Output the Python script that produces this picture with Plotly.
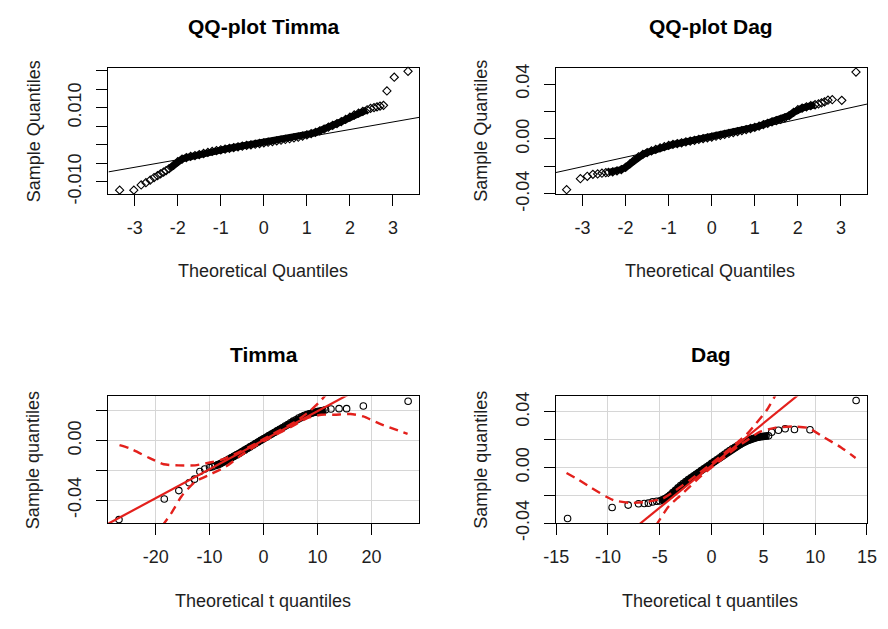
import plotly.graph_objects as go

W, H = 888, 629
FONT = "Liberation Sans, Arial, sans-serif"
INK = "#1e1e1e"
RED = "#e3201c"

# ---------------- QQ-plot Timma (normal quantiles) ----------------
timma_norm_x = [-3.35, -3.02, -2.85, -2.74, -2.64, -2.55, -2.47, -2.40, -2.33, -2.27,
                -2.2, -2.1, -2.0, -1.9, -1.8, -1.7, -1.6, -1.5, -1.4, -1.3, -1.2, -1.1,
                -1.0, -0.9, -0.8, -0.7, -0.6, -0.5, -0.4, -0.3, -0.2, -0.1, 0.0, 0.1,
                0.2, 0.3, 0.4, 0.5, 0.6, 0.7, 0.8, 0.9, 1.0, 1.1, 1.2, 1.3, 1.4, 1.5,
                1.6, 1.7, 1.8, 1.9, 2.0, 2.1, 2.2, 2.3, 2.4,
                2.48, 2.56, 2.63, 2.70, 2.78, 2.86, 3.03, 3.35]
timma_norm_y = [-0.0123, -0.0123, -0.0109, -0.0103, -0.0096, -0.0089, -0.0084, -0.0079, -0.0074, -0.0070,
                -0.0065, -0.0056, -0.0046, -0.0039, -0.0035, -0.0032, -0.00295, -0.0027, -0.0024, -0.0021, -0.00185, -0.0016,
                -0.0014, -0.0012, -0.0010, -0.0008, -0.0006, -0.0004, -0.0002, -0.00005, 0.0001, 0.0003, 0.0005, 0.00065,
                0.0008, 0.0010, 0.0012, 0.0014, 0.0016, 0.0018, 0.0020, 0.0023, 0.0026, 0.00295, 0.0033, 0.0037, 0.0042, 0.0047,
                0.0052, 0.0057, 0.0062, 0.0068, 0.0074, 0.0080, 0.0085, 0.0090, 0.0094,
                0.0098, 0.0100, 0.0102, 0.0104, 0.0106, 0.0145, 0.0182, 0.0198]
timma_norm_band = (-2.2, 2.4)
timma_norm_line = (0.0, 0.00204)          # intercept, slope of qqline

# ---------------- QQ-plot Dag (normal quantiles) ----------------
dag_norm_x = [-3.37, -3.05, -2.89, -2.76, -2.65, -2.55, -2.46,
              -2.4, -2.3, -2.2, -2.1, -2.0, -1.9, -1.8, -1.7, -1.6, -1.5, -1.4, -1.3, -1.2,
              -1.1, -1.0, -0.9, -0.8, -0.7, -0.6, -0.5, -0.4, -0.3, -0.2, -0.1, 0.0, 0.1,
              0.2, 0.3, 0.4, 0.5, 0.6, 0.7, 0.8, 0.9, 1.0, 1.1, 1.2, 1.3, 1.4, 1.5, 1.6,
              1.7, 1.8, 1.9, 2.0, 2.1, 2.2, 2.3, 2.4,
              2.48, 2.55, 2.62, 2.70, 2.80, 3.02, 3.35]
dag_norm_y = [-0.0370, -0.0290, -0.0272, -0.0258, -0.0255, -0.0250, -0.0246,
              -0.0244, -0.0240, -0.0233, -0.0223, -0.0207, -0.0182, -0.0154, -0.0130, -0.0113, -0.0099, -0.0087, -0.0076, -0.0066,
              -0.0056, -0.0047, -0.0040, -0.0034, -0.0028, -0.0022, -0.0016, -0.0010, -0.0004, 0.0002, 0.0008, 0.0014, 0.0020,
              0.0026, 0.0033, 0.0040, 0.0046, 0.0053, 0.0060, 0.0068, 0.0076, 0.0085, 0.0094, 0.0104, 0.0114, 0.0124, 0.0134, 0.0143,
              0.0154, 0.0170, 0.0193, 0.0213, 0.0225, 0.0234, 0.0242, 0.0249,
              0.0255, 0.0262, 0.0270, 0.0282, 0.0286, 0.0281, 0.0487]
dag_norm_band = (-2.4, 2.4)
dag_norm_line = (0.0005, 0.0069)

# ---------------- Timma (t quantiles) ----------------
timma_t_x = [-26.8, -18.4, -15.7, -13.8, -12.8, -11.8, -10.9, -10.0, -9.5,
             -9.0, -8.5, -8.0, -7.5, -7.0, -6.5, -6.0, -5.5, -5.0, -4.5, -4.0, -3.5,
             -3.0, -2.5, -2.0, -1.5, -1.0, -0.5, 0.0, 0.5, 1.0, 1.5, 2.0, 2.5, 3.0,
             3.5, 4.0, 4.5, 5.0, 5.5, 6.0, 6.5, 7.0, 7.5, 8.0, 8.5, 9.0, 9.5, 10.0,
             10.5, 11.0, 11.5,
             12.5, 14.0, 15.4, 18.5, 26.8]
timma_t_y = [-0.0531, -0.0392, -0.0336, -0.0283, -0.0259, -0.0207, -0.0191, -0.0181, -0.0175,
             -0.0169, -0.0163, -0.0156, -0.0146, -0.0136, -0.0126, -0.0116, -0.0106, -0.0096, -0.0086, -0.0075, -0.0064,
             -0.0053, -0.0042, -0.0031, -0.0020, -0.0009, 0.0002, 0.0012, 0.0023, 0.0034, 0.0044, 0.0055, 0.0066, 0.0077,
             0.0087, 0.0098, 0.0109, 0.0120, 0.0131, 0.0141, 0.0152, 0.0160, 0.0169, 0.0175, 0.0181, 0.0186, 0.0191, 0.0195,
             0.0199, 0.0203, 0.0207,
             0.0213, 0.0215, 0.0215, 0.0233, 0.0265]
timma_t_band = (-9.0, 11.5)
timma_t_line = (0.0003, 0.00195)
timma_t_upper_x = [-26.7, -24.8, -21.2, -18.5, -15.8, -12.7, -9.7, -7.3, -5.0, -2.0, 0.0, 3.0, 6.0, 8.6, 10.1, 11.5]
timma_t_upper_y = [-0.0030, -0.0052, -0.0116, -0.0159, -0.0166, -0.0166, -0.0145, -0.0123, -0.0085, -0.0030,
                   0.0010, 0.0070, 0.0130, 0.0200, 0.0250, 0.0305]
timma_t_lower_x = [-18.8, -17.0, -15.2, -12.7, -9.7, -7.0, -4.0, -1.0, 2.0, 5.0, 8.0, 10.7, 13.1, 16.1, 18.5, 21.5, 26.7]
timma_t_lower_y = [-0.0575, -0.0482, -0.0374, -0.0277, -0.0224, -0.0175, -0.0095, -0.0025, 0.0035, 0.0090,
                   0.0150, 0.0174, 0.0174, 0.0179, 0.0163, 0.0114, 0.0045]

# ---------------- Dag (t quantiles) ----------------
dag_t_x = [-13.9, -9.6, -8.05, -7.05, -6.5, -6.1, -5.7, -5.3,
           -5.0, -4.75, -4.5, -4.25, -4.0, -3.75, -3.5, -3.25, -3.0, -2.75, -2.5, -2.25,
           -2.0, -1.75, -1.5, -1.25, -1.0, -0.75, -0.5, -0.25, 0.0, 0.25, 0.5, 0.75,
           1.0, 1.25, 1.5, 1.75, 2.0, 2.25, 2.5, 2.75, 3.0, 3.25, 3.5, 3.75, 4.0,
           4.25, 4.5, 4.75, 5.0, 5.25, 5.5,
           5.8, 6.45, 7.1, 8.0, 9.5, 13.95]
dag_t_y = [-0.0366, -0.0287, -0.0270, -0.0260, -0.0258, -0.0256, -0.0247, -0.0242,
           -0.0240, -0.0233, -0.0224, -0.0212, -0.0197, -0.0180, -0.0163, -0.0146, -0.0130, -0.0115, -0.0101, -0.0087,
           -0.0074, -0.0061, -0.0048, -0.0035, -0.0022, -0.0009, 0.0004, 0.0017, 0.0030, 0.0043, 0.0056, 0.0069,
           0.0082, 0.0096, 0.0110, 0.0122, 0.0134, 0.0145, 0.0156, 0.0166, 0.0176, 0.0185, 0.0194, 0.0202, 0.0209,
           0.0214, 0.0218, 0.0221, 0.0224, 0.0226, 0.0228,
           0.0254, 0.0268, 0.0279, 0.0274, 0.0272, 0.0482]
dag_t_band = (-5.0, 5.5)
dag_t_line = (0.0015, 0.00606)
dag_t_upper_x = [-14.0, -12.9, -11.65, -10.1, -9.45, -7.9, -6.3, -4.75, -3.8, -2.0, 0.0, 2.0, 3.4, 4.3, 5.3, 6.2]
dag_t_upper_y = [-0.0039, -0.0085, -0.0143, -0.0212, -0.0235, -0.0254, -0.0247, -0.0224, -0.0180, -0.0085,
                 0.0030, 0.0150, 0.0240, 0.0318, 0.0410, 0.0525]
dag_t_lower_x = [-5.4, -4.6, -4.1, -3.0, -1.0, 1.0, 2.5, 3.4, 4.6, 6.2, 7.8, 9.35, 10.9, 12.5, 13.9]
dag_t_lower_y = [-0.0420, -0.0327, -0.0275, -0.0200, -0.0060, 0.0060, 0.0150, 0.0195, 0.0255, 0.0287,
                 0.0295, 0.0284, 0.0215, 0.0145, 0.0069]

# ---------------- panel layout (pixel boxes) ----------------
panels = [
    dict(title="QQ-plot Timma", xlab="Theoretical Quantiles", ylab="Sample Quantiles",
         box=(98, 417, 66, 197), xr=[-3.61, 3.61], yr=[-0.01337, 0.02078],
         xt=[-3, -2, -1, 0, 1, 2, 3], yt=[-0.010, -0.005, 0.0, 0.005, 0.010, 0.015, 0.020],
         ytl=["-0.010", "", "", "", "0.010", "", ""], grid=False,
         x=timma_norm_x, y=timma_norm_y, band=timma_norm_band, line=timma_norm_line,
         symbol="diamond-open", msize=6.3, env=None),
    dict(title="QQ-plot Dag", xlab="Theoretical Quantiles", ylab="Sample Quantiles",
         box=(557.3, 876.7, 66, 197), xr=[-3.62, 3.606], yr=[-0.0402, 0.0519],
         xt=[-3, -2, -1, 0, 1, 2, 3], yt=[-0.04, -0.02, 0.0, 0.02, 0.04],
         ytl=["-0.04", "", "0.00", "", "0.04"], grid=False,
         x=dag_norm_x, y=dag_norm_y, band=dag_norm_band, line=dag_norm_line,
         symbol="diamond-open", msize=6.3, env=None),
    dict(title="Timma", xlab="Theoretical t quantiles", ylab="Sample quantiles",
         box=(97.7, 416.7, 406.7, 538.3), xr=[-28.8, 28.8], yr=[-0.0557, 0.0297],
         xt=[-20, -10, 0, 10, 20], yt=[-0.04, -0.02, 0.0, 0.02],
         ytl=["-0.04", "", "0.00", ""], grid=True,
         x=timma_t_x, y=timma_t_y, band=timma_t_band, line=timma_t_line,
         symbol="circle-open", msize=6.5,
         env=((timma_t_upper_x, timma_t_upper_y), (timma_t_lower_x, timma_t_lower_y))),
    dict(title="Dag", xlab="Theoretical t quantiles", ylab="Sample quantiles",
         box=(557.3, 876.7, 406.7, 538.3), xr=[-15.03, 15.0], yr=[-0.0402, 0.0511],
         xt=[-15, -10, -5, 0, 5, 10, 15], yt=[-0.04, -0.02, 0.0, 0.02, 0.04],
         ytl=["-0.04", "", "0.00", "", "0.04"], grid=True,
         x=dag_t_x, y=dag_t_y, band=dag_t_band, line=dag_t_line,
         symbol="circle-open", msize=6.5,
         env=((dag_t_upper_x, dag_t_upper_y), (dag_t_lower_x, dag_t_lower_y))),
]

fig = go.Figure()
annotations = []
layout_axes = {}

for i, p in enumerate(panels, start=1):
    xa = "x" if i == 1 else f"x{i}"
    ya = "y" if i == 1 else f"y{i}"
    x0, x1, y0, y1 = p["box"]
    tickfont = dict(family=FONT, size=18, color=INK)
    layout_axes["xaxis" if i == 1 else f"xaxis{i}"] = dict(
        domain=[x0 / W, x1 / W], anchor=ya, range=p["xr"],
        tickmode="array", tickvals=p["xt"], ticktext=[str(v) for v in p["xt"]],
        ticks="outside", ticklen=11, tickwidth=1, tickcolor="black",
        showline=True, linecolor="black", linewidth=1, mirror=True,
        showgrid=p["grid"], gridcolor="#d6d6d6", gridwidth=1, zeroline=False,
        tickfont=tickfont, ticklabelstandoff=6, fixedrange=True)
    layout_axes["yaxis" if i == 1 else f"yaxis{i}"] = dict(
        domain=[1 - y1 / H, 1 - y0 / H], anchor=xa, range=p["yr"],
        tickmode="array", tickvals=p["yt"], ticktext=p["ytl"], tickangle=-90,
        ticks="outside", ticklen=11, tickwidth=1, tickcolor="black",
        showline=True, linecolor="black", linewidth=1, mirror=True,
        showgrid=p["grid"], gridcolor="#d6d6d6", gridwidth=1, zeroline=False,
        tickfont=tickfont, ticklabelstandoff=8, fixedrange=True)

    # dense central run of overplotted points rendered as a solid band
    lo, hi = p["band"]
    bx = [a for a in p["x"] if lo <= a <= hi]
    by = [b for a, b in zip(p["x"], p["y"]) if lo <= a <= hi]
    fig.add_trace(go.Scatter(x=bx, y=by, xaxis=xa, yaxis=ya, mode="lines",
                             line=dict(color="black", width=7), hoverinfo="skip",
                             showlegend=False))
    fig.add_trace(go.Scatter(x=p["x"], y=p["y"], xaxis=xa, yaxis=ya, mode="markers",
                             marker=dict(symbol=p["symbol"], size=p["msize"], color="black",
                                         line=dict(color="black", width=1.1)),
                             showlegend=False, cliponaxis=False))

    # reference line
    a, b = p["line"]
    lx = [p["xr"][0], p["xr"][1]]
    ly = [a + b * v for v in lx]
    if p["env"] is None:
        fig.add_trace(go.Scatter(x=lx, y=ly, xaxis=xa, yaxis=ya, mode="lines",
                                 line=dict(color="black", width=1), showlegend=False))
    else:
        fig.add_trace(go.Scatter(x=lx, y=ly, xaxis=xa, yaxis=ya, mode="lines",
                                 line=dict(color=RED, width=2.2), showlegend=False))
        for ex, ey in p["env"]:
            fig.add_trace(go.Scatter(x=ex, y=ey, xaxis=xa, yaxis=ya, mode="lines",
                                     line=dict(color=RED, width=2.4, dash="9px,6px",
                                               shape="spline", smoothing=0.6),
                                     showlegend=False))

    cx = (x0 + x1) / 2
    annotations.append(dict(text=f"<b>{p['title']}</b>", x=cx / W, y=1 - (y0 - 43) / H,
                            xref="paper", yref="paper", showarrow=False,
                            xanchor="center", yanchor="middle",
                            font=dict(family=FONT, size=21, color="black")))
    annotations.append(dict(text=p["xlab"], x=(cx - 1) / W, y=1 - (y1 + 80) / H,
                            xref="paper", yref="paper", showarrow=False,
                            xanchor="center", yanchor="middle",
                            font=dict(family=FONT, size=18, color=INK)))
    annotations.append(dict(text=p["ylab"], x=(x0 - 77) / W, y=1 - ((y0 + y1) / 2) / H,
                            xref="paper", yref="paper", showarrow=False, textangle=-90,
                            xanchor="center", yanchor="middle",
                            font=dict(family=FONT, size=18, color=INK)))

fig.update_layout(width=W, height=H, margin=dict(l=0, r=0, t=0, b=0),
                  paper_bgcolor="white", plot_bgcolor="white",
                  annotations=annotations, showlegend=False, **layout_axes)

fig.write_html("out.html")
